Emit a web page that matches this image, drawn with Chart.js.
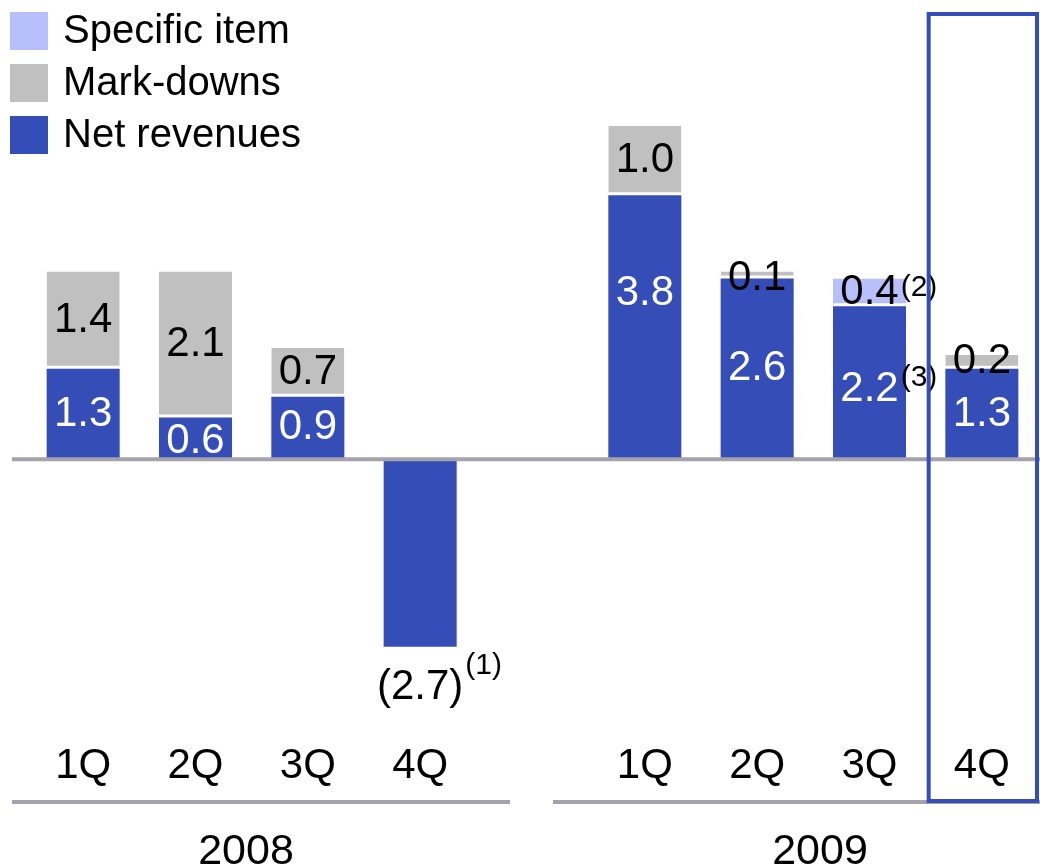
<!DOCTYPE html>
<html>
<head>
<meta charset="utf-8">
<script src="https://cdn.jsdelivr.net/npm/chart.js@4.4.1/dist/chart.umd.min.js"></script>
<style>
html, body { margin: 0; padding: 0; background: #fff; }
#wrap { width: 1040px; height: 867px; position: relative; }
</style>
</head>
<body>
<div id="wrap"><canvas id="revenues"></canvas></div>
<script>
// quarters, with an empty slot between the two years
var quarters = ['1Q', '2Q', '3Q', '4Q', '', '1Q', '2Q', '3Q', '4Q'];
var years = ['2008', '2009'];
var netRevenues = [1.3, 0.6, 0.9, -2.7, null, 3.8, 2.6, 2.2, 1.3];
var markDowns = [1.4, 2.1, 0.7, null, null, 1.0, 0.1, null, 0.2];
var specificItem = [null, null, null, null, null, null, null, 0.4, null];
var netNotes = ['', '', '', '(1)', '', '', '', '(3)', ''];
var specificNotes = ['', '', '', '', '', '', '', '(2)', ''];

var BLUE = '#344db7';
var GREY = '#c0c0c0';
var LILAC = '#b7c0fa';
var RULE = '#a3a2ad';
var FONT = '"Liberation Sans", Arial, sans-serif';

// small vertical tweaks for some value labels (dataset-index)
var labelNudge = { '0-5': -34, '0-7': 7, '0-1': 3, '1-6': 3 };
var noteRise = { '0-3': 22, '0-7': 12, '2-7': 5 };

var zeroLine = {
    id: 'zeroLine',
    afterDatasetsDraw: function (chart) {
        var ctx = chart.ctx;
        var y = chart.scales.y.getPixelForValue(0);
        ctx.save();
        ctx.strokeStyle = RULE;
        ctx.lineWidth = 4;
        ctx.beginPath();
        ctx.moveTo(12, y);
        ctx.lineTo(chart.chartArea.right + 2, y);
        ctx.stroke();
        ctx.restore();
    }
};

var valueLabels = {
    id: 'valueLabels',
    afterDatasetsDraw: function (chart) {
        var ctx = chart.ctx;
        ctx.save();
        ctx.textBaseline = 'middle';
        chart.data.datasets.forEach(function (ds, di) {
            var meta = chart.getDatasetMeta(di);
            meta.data.forEach(function (bar, i) {
                var v = ds.data[i];
                if (v === null || v === undefined) return;
                var key = di + '-' + i;
                var text = v < 0 ? '(' + Math.abs(v).toFixed(1) + ')' : v.toFixed(1);
                var y = v < 0 ? bar.y + 41 : (bar.y + bar.base) / 2;
                y += labelNudge[key] || 0;
                ctx.font = '42px ' + FONT;
                ctx.textAlign = 'center';
                ctx.fillStyle = v < 0 ? '#000' : ds.labelColor;
                ctx.fillText(text, bar.x, y);
                var note = ds.notes && ds.notes[i];
                if (note) {
                    var w = ctx.measureText(text).width;
                    ctx.font = '30px ' + FONT;
                    ctx.textAlign = 'left';
                    ctx.fillStyle = '#000';
                    ctx.fillText(note, bar.x + w / 2 + 2, y - (noteRise[key] || 0));
                }
            });
        });
        ctx.restore();
    }
};

var decorations = {
    id: 'decorations',
    afterDraw: function (chart) {
        var ctx = chart.ctx;
        var x = chart.scales.x;
        var area = chart.chartArea;
        var half = area.width / quarters.length / 2;
        ctx.save();

        // year rules and year labels
        ctx.strokeStyle = RULE;
        ctx.lineWidth = 4;
        ctx.beginPath();
        ctx.moveTo(12, 802); ctx.lineTo(510, 802);
        ctx.moveTo(553, 802); ctx.lineTo(1040, 802);
        ctx.stroke();
        ctx.fillStyle = '#000';
        ctx.font = '43px ' + FONT;
        ctx.textAlign = 'center';
        ctx.textBaseline = 'middle';
        ctx.fillText(years[0], 246, 852);
        ctx.fillText(years[1], 820, 852);

        // highlight box around the last quarter
        var left = x.getPixelForValue(quarters.length - 1) - half;
        ctx.strokeStyle = BLUE;
        ctx.lineWidth = 4;
        ctx.strokeRect(left + 3, 14, area.right - left - 4, 787);

        // legend
        var items = chart.data.datasets.slice().reverse();
        ctx.font = '40px ' + FONT;
        ctx.textAlign = 'left';
        items.forEach(function (ds, k) {
            var top = 12 + k * 52;
            ctx.fillStyle = ds.backgroundColor;
            ctx.fillRect(10, top, 38, 38);
            ctx.fillStyle = '#000';
            ctx.fillText(ds.label, 63, top + 20);
        });
        ctx.restore();
    }
};

var ctx = document.getElementById('revenues').getContext('2d');

var revenueChart = new Chart(ctx, {
    type: 'bar',
    data: {
        labels: quarters,
        datasets: [{
            label: 'Net revenues',
            data: netRevenues,
            backgroundColor: BLUE,
            borderWidth: 0,
            stack: 'q',
            labelColor: '#fff',
            notes: netNotes
        }, {
            label: 'Mark-downs',
            data: markDowns,
            backgroundColor: GREY,
            borderColor: '#fff',
            borderWidth: { top: 0, left: 0, right: 0, bottom: 3 },
            borderSkipped: false,
            stack: 'q',
            labelColor: '#000'
        }, {
            label: 'Specific item',
            data: specificItem,
            backgroundColor: LILAC,
            borderColor: '#fff',
            borderWidth: { top: 0, left: 0, right: 0, bottom: 3 },
            borderSkipped: false,
            stack: 'q',
            labelColor: '#000',
            notes: specificNotes
        }]
    },
    options: {
        responsive: true,
        maintainAspectRatio: false,
        animation: false,
        categoryPercentage: 1,
        barPercentage: 0.65,
        layout: { padding: { left: 27, right: 2, top: 0, bottom: 68 } },
        plugins: {
            legend: { display: false },
            tooltip: { enabled: false }
        },
        scales: {
            x: {
                stacked: true,
                grid: { display: false },
                border: { display: false },
                ticks: {
                    color: '#000',
                    font: { family: FONT, size: 42 },
                    padding: 7,
                    maxRotation: 0,
                    autoSkip: false
                }
            },
            y: {
                stacked: true,
                display: false,
                min: -3.85,
                max: 6.61
            }
        }
    },
    plugins: [zeroLine, valueLabels, decorations]
});
</script>
</body>
</html>
